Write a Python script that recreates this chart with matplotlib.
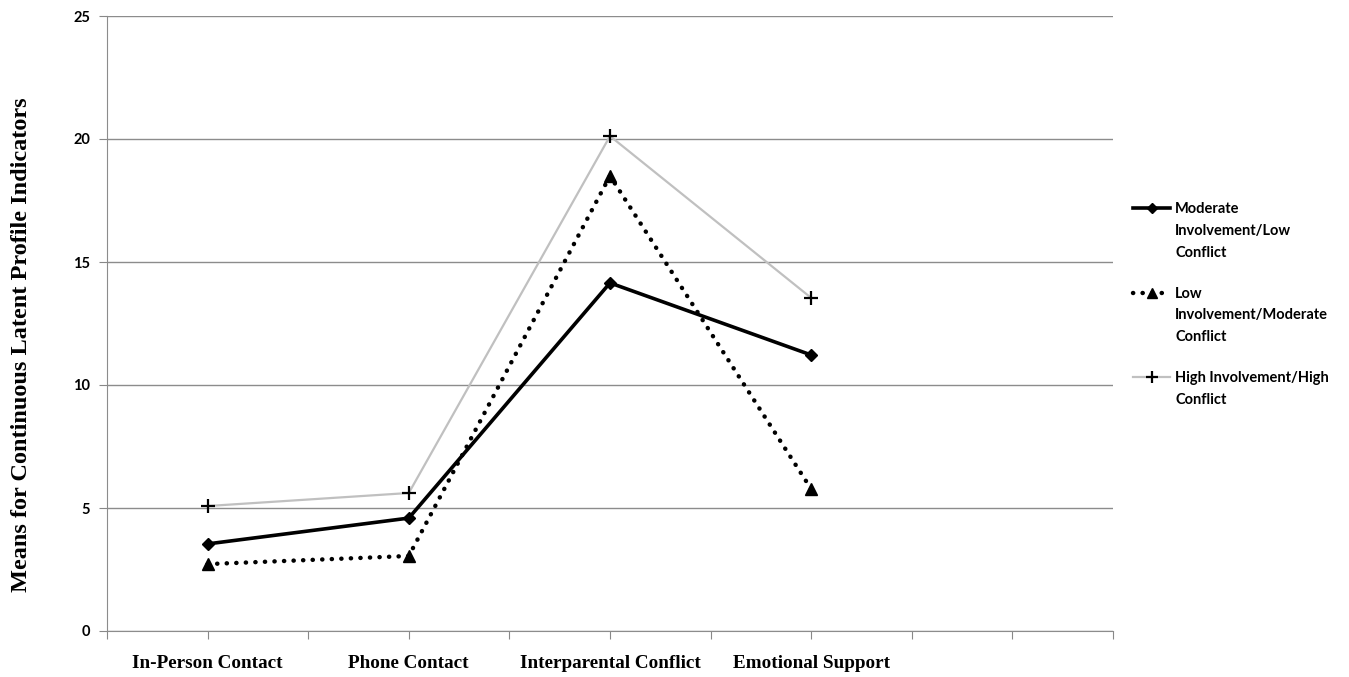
import matplotlib.pyplot as plt
from matplotlib.lines import Line2D

categories = ["In-Person Contact", "Phone Contact", "Interparental Conflict", "Emotional Support", ""]
moderate_low = [3.54, 4.59, 14.15, 11.22]
low_moderate = [2.72, 3.05, 18.5, 5.77]
high_high = [5.08, 5.61, 20.12, 13.54]
series_labels = ["Moderate\nInvolvement/Low\nConflict",
                 "Low\nInvolvement/Moderate\nConflict",
                 "High Involvement/High\nConflict"]
y_ticks = [0, 5, 10, 15, 20, 25]

W, H = 1349, 677
fig = plt.figure(figsize=(W / 100, H / 100), dpi=100)
ax = fig.add_axes([107 / W, 1 - 631 / H, 1006 / W, 615 / H])

styles = [
    dict(color="black", lw=2.6, marker="D", ms=6.5, zorder=4),
    dict(color="black", lw=3.2, linestyle=(0, (0.05, 2.1)), dash_capstyle="round",
         marker="^", ms=8, zorder=3),
    dict(color="#c0c0c0", lw=1.6, marker="+", ms=10, mew=1.6, mec="black", zorder=2),
]
x = list(range(len(moderate_low)))
for vals, st in zip([moderate_low, low_moderate, high_high], styles):
    ax.plot(x, vals, **st)

ax.set_xlim(-0.5, len(categories) - 0.5)
ax.set_ylim(0, 25)
ax.set_yticks(y_ticks)
ax.xaxis.remove_overlapping_locs = False
ax.set_xticks([i * 0.5 - 0.5 for i in range(2 * len(categories) + 1)])
ax.set_xticklabels([])
ax.set_xticks(range(len(categories)), minor=True)
ax.set_xticklabels(categories, minor=True, family="Liberation Serif",
                   fontweight="bold", fontsize=13.8)
ax.tick_params(axis="x", which="minor", length=0, pad=17)
ax.tick_params(axis="x", which="major", length=6, color="#888888")
ax.tick_params(axis="y", length=6, color="#888888", pad=6)
for lab in ax.get_yticklabels():
    lab.set_family("Lato")
    lab.set_fontweight("bold")
    lab.set_fontsize(10.5)

ax.grid(axis="y", color="#8c8c8c", lw=1)
ax.set_axisbelow(True)
for s in ["top", "right"]:
    ax.spines[s].set_visible(False)
for s in ["left", "bottom"]:
    ax.spines[s].set_color("#8c8c8c")

fig.text(22 / W, 1 - 345 / H, "Means for Continuous Latent Profile Indicators",
         rotation=90, va="center", ha="center", family="Liberation Serif",
         fontweight="bold", fontsize=17.5)

# legend, handle level with the first line of each label
for i, (lab, st) in enumerate(zip(series_labels, styles)):
    yc = 1 - (208 + 84.5 * i) / H
    st = {k: v for k, v in st.items() if k != "zorder"}
    fig.add_artist(Line2D([1133 / W, 1170 / W], [yc, yc], transform=fig.transFigure,
                          markevery=[], **st))
    mk = {k: v for k, v in st.items() if k not in ("lw", "linestyle", "dash_capstyle")}
    mk["ms"] = st["ms"] * 0.85
    fig.add_artist(Line2D([1151.5 / W], [yc], transform=fig.transFigure, lw=0, **mk))
    fig.text(1175 / W, yc + 6 / H, lab, va="top", ha="left", family="Lato",
             fontweight="bold", fontsize=10.5, linespacing=1.72)

fig.savefig("out.png", dpi=100)
